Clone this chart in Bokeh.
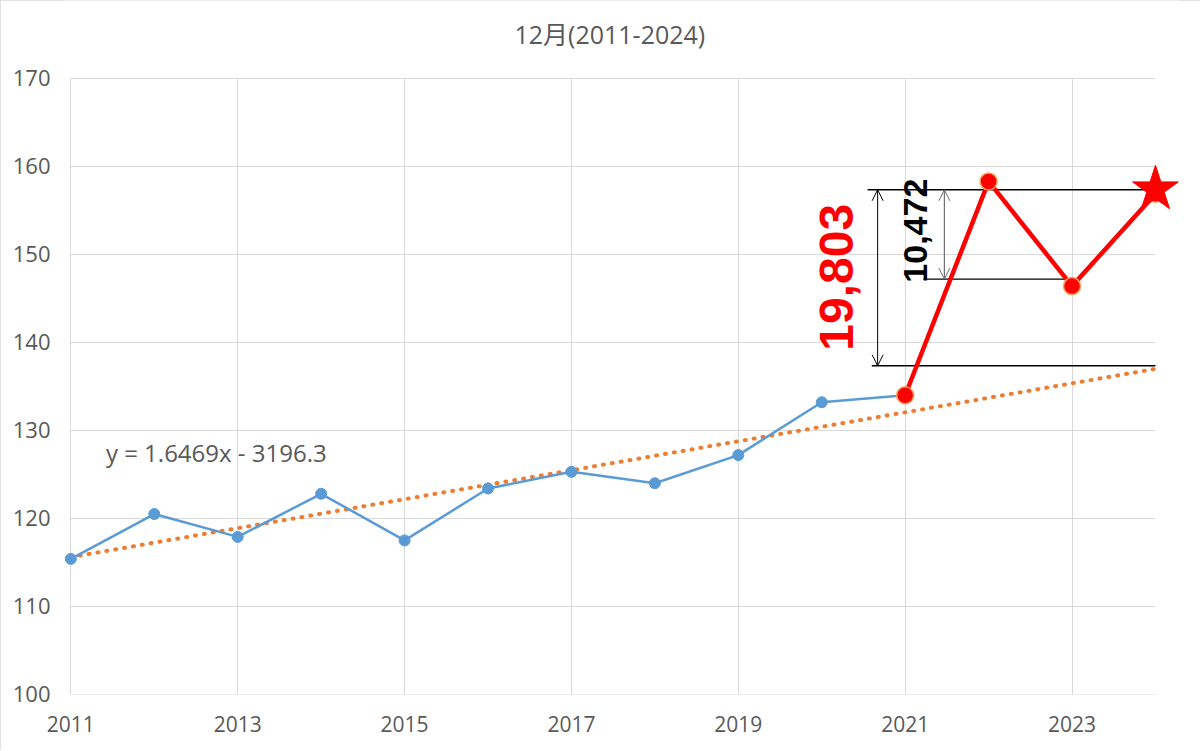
import math
from bokeh.plotting import figure
from bokeh.models import Range1d, FixedTicker, Arrow, OpenHead, Label
from bokeh.embed import file_html
from bokeh.resources import INLINE

# ---------------- data ----------------
TITLE = "12月(2011-2024)"
YEARS_BLUE = [2011, 2012, 2013, 2014, 2015, 2016, 2017, 2018, 2019, 2020, 2021]
VALUES_BLUE = [115.4, 120.5, 117.9, 122.8, 117.5, 123.4, 125.3, 124.0, 127.2, 133.2, 134.0]
YEARS_RED = [2021, 2022, 2023, 2024]
VALUES_RED = [134.0, 158.3, 146.4, 156.9]
STAR_YEAR = [2024]
STAR_VALUE = [157.4]
TREND_X = [2011, 2024]
TREND_Y = [115.6, 137.0]
EQUATION = "y = 1.6469x - 3196.3"
X_TICKS = [2011, 2013, 2015, 2017, 2019, 2021, 2023]
Y_TICKS = [100, 110, 120, 130, 140, 150, 160, 170]
DIFF_LABELS = ["19,803", "10,472"]
# reference levels of the difference brackets
LEVEL_Y = [157.35, 147.2, 137.35]
LEVEL_X0 = [2020.55, 2021.22, 2020.6]
LEVEL_X1 = [2024.0, 2023.08, 2024.0]

GREY = "#595959"
GRID = "#d9d9d9"

# the frame also covers the title strip; grid lines are bounded to the data area
p = figure(
    frame_width=1118, frame_height=694,
    x_range=Range1d(2010.9, 2024.3), y_range=Range1d(99.99, 178.86),
    output_backend="svg", toolbar_location=None,
    min_border_left=62, min_border_right=20, min_border_top=0, min_border_bottom=56,
)
p.outline_line_color = None
p.background_fill_color = "white"
p.border_fill_color = "white"
p.styles = {"outline": "2px solid #d9d9d9", "outline-offset": "-2px"}

for ax in (p.xaxis[0], p.yaxis[0]):
    ax.axis_line_color = None
    ax.major_tick_line_color = None
    ax.minor_tick_line_color = None
    ax.major_tick_out = 0
    ax.major_tick_in = 0
    ax.minor_tick_out = 0
    ax.minor_tick_in = 0
    ax.major_label_text_font = "Open Sans"
    ax.major_label_text_font_size = "21px"
    ax.major_label_text_color = GREY
p.yaxis.major_label_text_font_size = "22px"
p.xaxis.ticker = FixedTicker(ticks=X_TICKS)
p.yaxis.ticker = FixedTicker(ticks=Y_TICKS)
p.xaxis.major_label_standoff = 21
p.yaxis.major_label_standoff = 12

p.xgrid.grid_line_color = GRID
p.ygrid.grid_line_color = GRID
p.ygrid.cross_bounds = (TREND_X[0], TREND_X[-1])
p.xgrid.cross_bounds = (Y_TICKS[0], Y_TICKS[-1])

# trend line
p.line(TREND_X, TREND_Y, line_color="#ed7d31", line_width=4, line_dash="1 8", line_cap="round")

# blue series
p.line(YEARS_BLUE, VALUES_BLUE, line_color="#5b9bd5", line_width=2.5)
p.scatter(YEARS_BLUE, VALUES_BLUE, size=11, fill_color="#5b9bd5", line_color="#5b9bd5")

# bracket lines
p.segment(x0=LEVEL_X0, y0=LEVEL_Y, x1=LEVEL_X1, y1=LEVEL_Y, line_color="black", line_width=1.3)

# red series
p.line(YEARS_RED, VALUES_RED, line_color="#ff0000", line_width=4.5)
p.scatter(YEARS_RED, VALUES_RED, size=17, fill_color="#ff0000", line_color="#f4a460", line_width=1.5)
p.scatter(STAR_YEAR, STAR_VALUE, marker="star", size=48, fill_color="#ff0000", line_color="#ff0000")

# arrows
p.add_layout(Arrow(x_start=2020.67, y_start=LEVEL_Y[2], x_end=2020.67, y_end=LEVEL_Y[0],
                   line_color="black", line_width=1,
                   start=OpenHead(size=11, line_color="black", line_width=1),
                   end=OpenHead(size=11, line_color="black", line_width=1)))
p.add_layout(Arrow(x_start=2021.47, y_start=LEVEL_Y[1], x_end=2021.47, y_end=LEVEL_Y[0],
                   line_color="#6f6f6f", line_width=1.2,
                   start=OpenHead(size=11, line_color="#6f6f6f", line_width=1),
                   end=OpenHead(size=11, line_color="#6f6f6f", line_width=1)))

# texts
p.add_layout(Label(x=2017.46, y=175.1, text=TITLE,
                   text_align="center", text_baseline="middle",
                   text_font="Open Sans, Noto Sans CJK JP",
                   text_font_size="25px", text_color=GREY))
p.add_layout(Label(x=2020.18, y=147.4, text=DIFF_LABELS[0], angle=math.pi / 2,
                   text_align="center", text_baseline="middle",
                   text_font="Liberation Sans", text_font_style="bold",
                   text_font_size="48px", text_color="#ff0000"))
p.add_layout(Label(x=2021.12, y=152.7, text=DIFF_LABELS[1], angle=math.pi / 2,
                   text_align="center", text_baseline="middle",
                   text_font="Liberation Sans", text_font_style="bold",
                   text_font_size="34px", text_color="black"))
p.add_layout(Label(x=2011.42, y=127.5, text=EQUATION,
                   text_align="left", text_baseline="middle",
                   text_font="Open Sans", text_font_size="24px", text_color=GREY))

open("out.html", "w").write(file_html(p, INLINE))
